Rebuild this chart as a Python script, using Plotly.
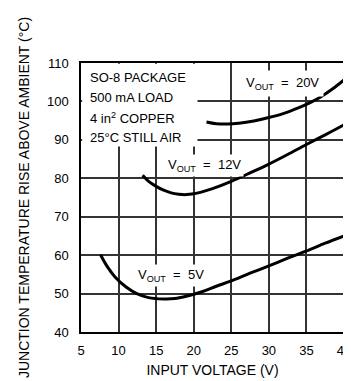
import plotly.graph_objects as go

# Junction temperature rise vs input voltage (SO-8, 500 mA load)
vin_5v = [7.6, 8.5, 9.5, 11, 12.5, 14, 16, 17.5, 19, 21, 23, 25, 27.5, 30, 32.5, 35, 37.5, 40]
rise_5v = [60.1, 57.0, 54.4, 51.7, 49.9, 48.95, 48.6, 48.7, 49.3, 50.4, 51.9, 53.3, 55.3, 57.2, 59.2, 61.1, 63.1, 65.0]

vin_12v = [13.2, 14, 15, 16, 17, 18, 19, 20, 21, 22.5, 25, 27.5, 30, 32.5, 35, 37.5, 40]
rise_12v = [80.8, 79.2, 77.9, 76.9, 76.2, 75.85, 75.75, 75.95, 76.4, 77.3, 79.2, 81.4, 83.7, 86.2, 88.8, 91.3, 93.9]

vin_20v = [21.7, 23, 24.5, 26, 28, 30, 32, 34, 35.5, 37, 38.5, 40]
rise_20v = [94.65, 94.2, 94.1, 94.3, 94.9, 95.8, 96.9, 98.4, 99.7, 101.3, 103.3, 105.6]

note_lines = ["SO-8 PACKAGE", "500 mA LOAD", "4 in<sup>2</sup> COPPER", "25\u00b0C STILL AIR"]
x_ticks = [5, 10, 15, 20, 25, 30, 35, 40]
y_ticks = [40, 50, 60, 70, 80, 90, 100, 110]

FONT = "Liberation Sans"
NB = "\u00a0"

fig = go.Figure()
for xs, ys in [(vin_5v, rise_5v), (vin_12v, rise_12v), (vin_20v, rise_20v)]:
    fig.add_trace(go.Scatter(x=xs, y=ys, mode="lines", line=dict(color="black", width=3, shape="spline"),
                             showlegend=False, hoverinfo="skip"))

# white block behind the conditions text (hides gridlines like the original)
fig.add_shape(type="rect", xref="x", yref="y", x0=5.15, x1=20.5, y0=88.3, y1=109.8,
              fillcolor="white", line_width=0, layer="above")

note_y = [106.2, 101.0, 95.6, 90.5]
for txt, yy in zip(note_lines, note_y):
    fig.add_annotation(x=5.9, y=yy, xref="x", yref="y", text=txt, showarrow=False,
                       xanchor="left", yanchor="middle", font=dict(family=FONT, size=13, color="black"))

labels = [(31.8, 104.6, "20V", 4), (21.5, 83.2, "12V", 2), (17.0, 54.6, "5V", 2)]
for lx, ly, v, pad in labels:
    fig.add_annotation(x=lx, y=ly, xref="x", yref="y",
                       text=f"V<sub>OUT</sub>{NB}{NB}={NB}{NB}{v}", showarrow=False,
                       bgcolor="white", borderpad=pad,
                       font=dict(family=FONT, size=13, color="black"))

axes = dict(showline=True, linecolor="black", linewidth=1.5, mirror=True,
            showgrid=True, gridcolor="#333333", gridwidth=2, zeroline=False,
            tickmode="array", tickfont=dict(family=FONT, size=13, color="black"))

fig.update_xaxes(range=[5, 40], tickvals=x_ticks, ticklabelstandoff=6,
                 title=dict(text="INPUT VOLTAGE (V)", font=dict(family=FONT, size=14, color="black"), standoff=8),
                 **axes)
fig.update_yaxes(range=[40, 110], tickvals=y_ticks, ticklabelstandoff=8,
                 title=dict(text="JUNCTION TEMPERATURE RISE ABOVE AMBIENT (\u00b0C)",
                            font=dict(family=FONT, size=14, color="black"), standoff=14),
                 **axes)

fig.update_layout(width=351, height=381, margin=dict(l=73, r=8, t=55, b=57),
                  plot_bgcolor="white", paper_bgcolor="white")

fig.write_html("out.html")
